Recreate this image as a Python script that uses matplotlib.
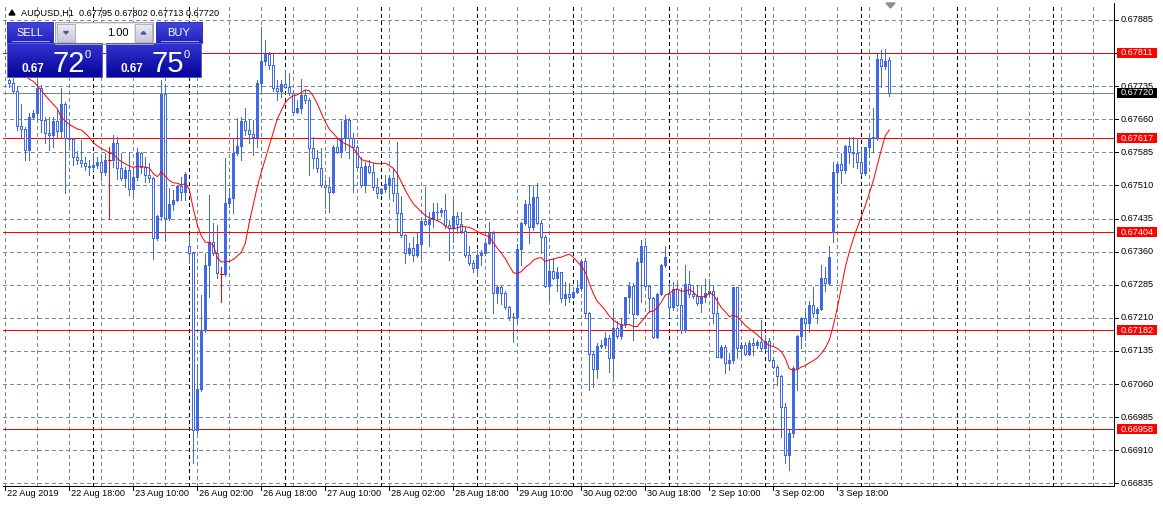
import numpy as np
import pandas as pd
import matplotlib
matplotlib.use("Agg")
import matplotlib.pyplot as plt
import matplotlib.transforms as mtransforms
from matplotlib.patches import Rectangle, Polygon

plt.rcParams['font.family'] = ['Liberation Sans', 'DejaVu Sans']

# AUDUSD H1 candles, 22 Aug 2019 03:00 .. 4 Sep 2019 07:00
opens = [
    0.67749, 0.67742, 0.67724, 0.67645, 0.67639, 0.67591, 0.67665, 0.67674, 0.67732, 0.67658,
    0.67628, 0.67625, 0.67657, 0.67633, 0.67695, 0.67617, 0.67615, 0.67575, 0.67568, 0.67560,
    0.67554, 0.67551, 0.67557, 0.67564, 0.67540, 0.67568, 0.67568, 0.67606, 0.67549, 0.67526,
    0.67544, 0.67501, 0.67530, 0.67583, 0.67553, 0.67534, 0.67527, 0.67390, 0.67441, 0.67717,
    0.67436, 0.67468, 0.67477, 0.67509, 0.67496, 0.67372, 0.67356, 0.66955, 0.67048, 0.67183,
    0.67330, 0.67383, 0.67356, 0.67309, 0.67309, 0.67470, 0.67481, 0.67583, 0.67600, 0.67655,
    0.67636, 0.67626, 0.67619, 0.67743, 0.67792, 0.67807, 0.67783, 0.67730, 0.67723, 0.67740,
    0.67734, 0.67720, 0.67677, 0.67685, 0.67715, 0.67704, 0.67594, 0.67572, 0.67549, 0.67510,
    0.67507, 0.67495, 0.67598, 0.67585, 0.67617, 0.67658, 0.67617, 0.67598, 0.67553, 0.67511,
    0.67554, 0.67541, 0.67507, 0.67492, 0.67502, 0.67514, 0.67528, 0.67492, 0.67447, 0.67398,
    0.67356, 0.67368, 0.67353, 0.67378, 0.67430, 0.67423, 0.67434, 0.67449, 0.67451, 0.67455,
    0.67421, 0.67413, 0.67440, 0.67423, 0.67406, 0.67353, 0.67334, 0.67324, 0.67353, 0.67356,
    0.67379, 0.67402, 0.67267, 0.67281, 0.67266, 0.67234, 0.67213, 0.67211, 0.67366, 0.67424,
    0.67468, 0.67415, 0.67485, 0.67424, 0.67393, 0.67283, 0.67317, 0.67300, 0.67313, 0.67255,
    0.67264, 0.67258, 0.67268, 0.67277, 0.67338, 0.67221, 0.67128, 0.67095, 0.67147, 0.67149,
    0.67164, 0.67119, 0.67187, 0.67168, 0.67196, 0.67257, 0.67283, 0.67218, 0.67336, 0.67373,
    0.67283, 0.67255, 0.67166, 0.67264, 0.67330, 0.67264, 0.67234, 0.67275, 0.67239, 0.67183,
    0.67286, 0.67264, 0.67260, 0.67243, 0.67258, 0.67266, 0.67272, 0.67221, 0.67122, 0.67144,
    0.67107, 0.67115, 0.67279, 0.67141, 0.67149, 0.67128, 0.67154, 0.67149, 0.67156, 0.67141,
    0.67158, 0.67115, 0.67098, 0.67079, 0.67009, 0.66900, 0.66949, 0.67096, 0.67168, 0.67209,
    0.67198, 0.67239, 0.67222, 0.67230, 0.67300, 0.67289, 0.67404, 0.67541, 0.67559, 0.67544,
    0.67600, 0.67587, 0.67583, 0.67564, 0.67539, 0.67598, 0.67617, 0.67619, 0.67796, 0.67781,
    0.67795,
]
highs = [
    0.67752, 0.67753, 0.67734, 0.67695, 0.67643, 0.67675, 0.67680, 0.67747, 0.67738, 0.67666,
    0.67665, 0.67665, 0.67681, 0.67732, 0.67700, 0.67658, 0.67617, 0.67589, 0.67612, 0.67575,
    0.67568, 0.67583, 0.67575, 0.67579, 0.67583, 0.67598, 0.67625, 0.67619, 0.67583, 0.67553,
    0.67585, 0.67553, 0.67594, 0.67585, 0.67575, 0.67560, 0.67530, 0.67443, 0.67749, 0.67738,
    0.67504, 0.67500, 0.67511, 0.67530, 0.67541, 0.67398, 0.67360, 0.67104, 0.67262, 0.67356,
    0.67489, 0.67424, 0.67421, 0.67326, 0.67572, 0.67504, 0.67617, 0.67662, 0.67666, 0.67685,
    0.67658, 0.67658, 0.67749, 0.67868, 0.67840, 0.67813, 0.67809, 0.67749, 0.67749, 0.67772,
    0.67764, 0.67726, 0.67704, 0.67751, 0.67726, 0.67708, 0.67621, 0.67591, 0.67594, 0.67523,
    0.67530, 0.67602, 0.67617, 0.67655, 0.67670, 0.67662, 0.67628, 0.67602, 0.67575, 0.67564,
    0.67568, 0.67560, 0.67526, 0.67504, 0.67534, 0.67534, 0.67549, 0.67609, 0.67486, 0.67400,
    0.67379, 0.67394, 0.67402, 0.67436, 0.67507, 0.67451, 0.67470, 0.67471, 0.67458, 0.67491,
    0.67432, 0.67477, 0.67451, 0.67451, 0.67417, 0.67372, 0.67341, 0.67364, 0.67364, 0.67383,
    0.67428, 0.67406, 0.67285, 0.67283, 0.67270, 0.67236, 0.67221, 0.67377, 0.67428, 0.67477,
    0.67511, 0.67511, 0.67515, 0.67432, 0.67398, 0.67338, 0.67345, 0.67326, 0.67315, 0.67292,
    0.67289, 0.67281, 0.67296, 0.67343, 0.67345, 0.67224, 0.67134, 0.67154, 0.67160, 0.67177,
    0.67172, 0.67230, 0.67202, 0.67209, 0.67258, 0.67292, 0.67289, 0.67345, 0.67387, 0.67381,
    0.67285, 0.67258, 0.67266, 0.67332, 0.67373, 0.67289, 0.67292, 0.67289, 0.67277, 0.67330,
    0.67317, 0.67285, 0.67285, 0.67285, 0.67298, 0.67298, 0.67285, 0.67258, 0.67149, 0.67149,
    0.67130, 0.67281, 0.67281, 0.67156, 0.67156, 0.67160, 0.67164, 0.67160, 0.67205, 0.67172,
    0.67164, 0.67121, 0.67104, 0.67081, 0.67017, 0.66956, 0.67100, 0.67172, 0.67211, 0.67224,
    0.67249, 0.67281, 0.67234, 0.67330, 0.67326, 0.67372, 0.67564, 0.67560, 0.67583, 0.67602,
    0.67621, 0.67621, 0.67617, 0.67594, 0.67598, 0.67625, 0.67685, 0.67809, 0.67817, 0.67819,
    0.67802,
]
lows = [
    0.67734, 0.67720, 0.67636, 0.67617, 0.67568, 0.67568, 0.67660, 0.67658, 0.67632, 0.67607,
    0.67591, 0.67598, 0.67617, 0.67621, 0.67492, 0.67598, 0.67557, 0.67559, 0.67553, 0.67544,
    0.67534, 0.67545, 0.67549, 0.67523, 0.67534, 0.67434, 0.67553, 0.67524, 0.67523, 0.67507,
    0.67489, 0.67485, 0.67523, 0.67538, 0.67517, 0.67519, 0.67343, 0.67387, 0.67432, 0.67387,
    0.67432, 0.67455, 0.67474, 0.67477, 0.67477, 0.67334, 0.66881, 0.66949, 0.67045, 0.67179,
    0.67258, 0.67353, 0.67300, 0.67247, 0.67304, 0.67462, 0.67447, 0.67579, 0.67568, 0.67625,
    0.67606, 0.67579, 0.67598, 0.67726, 0.67783, 0.67775, 0.67723, 0.67704, 0.67711, 0.67730,
    0.67715, 0.67670, 0.67674, 0.67674, 0.67696, 0.67534, 0.67549, 0.67541, 0.67507, 0.67458,
    0.67451, 0.67492, 0.67583, 0.67575, 0.67591, 0.67572, 0.67496, 0.67549, 0.67507, 0.67496,
    0.67538, 0.67500, 0.67481, 0.67491, 0.67496, 0.67485, 0.67474, 0.67406, 0.67394, 0.67335,
    0.67353, 0.67338, 0.67349, 0.67345, 0.67421, 0.67373, 0.67417, 0.67432, 0.67440, 0.67413,
    0.67341, 0.67383, 0.67402, 0.67402, 0.67347, 0.67330, 0.67313, 0.67304, 0.67330, 0.67353,
    0.67378, 0.67222, 0.67243, 0.67242, 0.67230, 0.67205, 0.67156, 0.67198, 0.67330, 0.67421,
    0.67379, 0.67409, 0.67423, 0.67356, 0.67281, 0.67251, 0.67298, 0.67270, 0.67247, 0.67239,
    0.67247, 0.67255, 0.67266, 0.67270, 0.67211, 0.67047, 0.67054, 0.67073, 0.67141, 0.67141,
    0.67088, 0.67073, 0.67164, 0.67162, 0.67190, 0.67221, 0.67160, 0.67217, 0.67247, 0.67281,
    0.67224, 0.67164, 0.67164, 0.67262, 0.67325, 0.67213, 0.67228, 0.67236, 0.67175, 0.67179,
    0.67258, 0.67255, 0.67239, 0.67224, 0.67247, 0.67262, 0.67198, 0.67121, 0.67119, 0.67085,
    0.67092, 0.67107, 0.67119, 0.67122, 0.67126, 0.67126, 0.67126, 0.67141, 0.67138, 0.67138,
    0.67113, 0.67096, 0.67058, 0.66941, 0.66881, 0.66866, 0.66941, 0.67047, 0.67141, 0.67160,
    0.67179, 0.67213, 0.67198, 0.67228, 0.67270, 0.67285, 0.67383, 0.67492, 0.67515, 0.67538,
    0.67560, 0.67553, 0.67549, 0.67534, 0.67534, 0.67575, 0.67587, 0.67613, 0.67734, 0.67775,
    0.67713,
]
closes = [
    0.67742, 0.67724, 0.67645, 0.67639, 0.67591, 0.67665, 0.67674, 0.67732, 0.67658, 0.67628,
    0.67625, 0.67657, 0.67633, 0.67695, 0.67617, 0.67615, 0.67575, 0.67568, 0.67560, 0.67554,
    0.67551, 0.67557, 0.67564, 0.67540, 0.67568, 0.67568, 0.67606, 0.67549, 0.67526, 0.67544,
    0.67501, 0.67530, 0.67583, 0.67553, 0.67534, 0.67527, 0.67390, 0.67441, 0.67717, 0.67436,
    0.67468, 0.67477, 0.67509, 0.67496, 0.67536, 0.67356, 0.66955, 0.67048, 0.67183, 0.67330,
    0.67383, 0.67356, 0.67311, 0.67309, 0.67470, 0.67481, 0.67583, 0.67600, 0.67655, 0.67636,
    0.67626, 0.67619, 0.67743, 0.67792, 0.67807, 0.67783, 0.67730, 0.67723, 0.67740, 0.67734,
    0.67720, 0.67677, 0.67685, 0.67715, 0.67704, 0.67594, 0.67572, 0.67549, 0.67510, 0.67507,
    0.67495, 0.67598, 0.67585, 0.67617, 0.67658, 0.67617, 0.67598, 0.67553, 0.67511, 0.67554,
    0.67541, 0.67507, 0.67492, 0.67502, 0.67514, 0.67528, 0.67492, 0.67447, 0.67398, 0.67356,
    0.67368, 0.67353, 0.67378, 0.67430, 0.67423, 0.67434, 0.67449, 0.67451, 0.67455, 0.67421,
    0.67413, 0.67440, 0.67423, 0.67406, 0.67353, 0.67334, 0.67324, 0.67353, 0.67356, 0.67379,
    0.67402, 0.67267, 0.67281, 0.67266, 0.67234, 0.67213, 0.67211, 0.67366, 0.67424, 0.67468,
    0.67415, 0.67485, 0.67424, 0.67393, 0.67283, 0.67317, 0.67300, 0.67313, 0.67255, 0.67264,
    0.67258, 0.67268, 0.67277, 0.67338, 0.67221, 0.67128, 0.67095, 0.67147, 0.67149, 0.67164,
    0.67119, 0.67187, 0.67168, 0.67196, 0.67257, 0.67283, 0.67218, 0.67336, 0.67373, 0.67283,
    0.67255, 0.67166, 0.67264, 0.67330, 0.67349, 0.67234, 0.67275, 0.67239, 0.67183, 0.67286,
    0.67264, 0.67260, 0.67243, 0.67258, 0.67266, 0.67272, 0.67221, 0.67122, 0.67144, 0.67107,
    0.67115, 0.67279, 0.67141, 0.67149, 0.67128, 0.67154, 0.67149, 0.67156, 0.67141, 0.67158,
    0.67115, 0.67098, 0.67079, 0.67009, 0.66900, 0.66949, 0.67096, 0.67168, 0.67209, 0.67198,
    0.67239, 0.67222, 0.67230, 0.67300, 0.67289, 0.67349, 0.67541, 0.67559, 0.67544, 0.67600,
    0.67587, 0.67583, 0.67564, 0.67539, 0.67598, 0.67617, 0.67619, 0.67796, 0.67781, 0.67792,
    0.67720,
]
# MA(14) values for the first bars (its history lies left of the window)
ma_start = [0.67794, 0.67787, 0.67779, 0.67768, 0.67760, 0.67751, 0.67746,
            0.67736, 0.67725, 0.67714, 0.67704, 0.67694, 0.67684]
ma_period = 14

levels = [0.67811, 0.67617, 0.67404, 0.67182, 0.66958]
bid_price = 0.67720
price_ticks = [0.66835, 0.66910, 0.66985, 0.67060, 0.67135, 0.67210, 0.67285, 0.67360,
               0.67435, 0.67510, 0.67585, 0.67660, 0.67735, 0.67810, 0.67885]

trading_days = ["2019-08-22", "2019-08-23", "2019-08-26", "2019-08-27", "2019-08-28",
                "2019-08-29", "2019-08-30", "2019-09-02", "2019-09-03", "2019-09-04",
                "2019-09-05", "2019-09-06"]
first_bar = "2019-08-22 03:00"
time_labels = ["22 Aug 2019", "22 Aug 18:00", "23 Aug 10:00", "26 Aug 02:00", "26 Aug 18:00",
               "27 Aug 10:00", "28 Aug 02:00", "28 Aug 18:00", "29 Aug 10:00", "30 Aug 02:00",
               "30 Aug 18:00", "2 Sep 10:00", "3 Sep 02:00", "3 Sep 18:00"]
label_times = ["2019-08-22 02:00", "2019-08-22 18:00", "2019-08-23 10:00", "2019-08-26 02:00",
               "2019-08-26 18:00", "2019-08-27 10:00", "2019-08-28 02:00", "2019-08-28 18:00",
               "2019-08-29 10:00", "2019-08-30 02:00", "2019-08-30 18:00", "2019-09-02 10:00",
               "2019-09-03 02:00", "2019-09-03 18:00"]
header = "AUDUSD,H1  0.67795 0.67802 0.67713 0.67720"
lot = "1.00"
sell_quote = ["0.67", "72", "0"]
buy_quote = ["0.67", "75", "0"]

W, H = 1163, 509
PX = 0.72  # one pixel in points
blue = '#4169E1'
slate = '#778899'
fs = 6.6

fig = plt.figure(figsize=(W / 100, H / 100), dpi=100)
fig.patch.set_facecolor('white')
ax = fig.add_axes([3 / W, 1 - 486 / H, 1111 / W, 483 / H])

grid_times = [pd.Timestamp(d) + pd.Timedelta(hours=h) for d in trading_days for h in range(24)]
k0 = grid_times.index(pd.Timestamp(first_bar))
n = len(closes)
xs = np.arange(n) + k0

ymin, ymax = 0.668291, 0.679235
ax.set_ylim(ymin, ymax)
ax.set_xlim(k0 - 1.575, k0 + 276.175)
ppu = 483 / (ymax - ymin)

for s in ['left', 'top']:
    ax.spines[s].set_visible(False)
for s in ['right', 'bottom']:
    ax.spines[s].set_linewidth(PX)
    ax.spines[s].set_color('black')
ax.set_xticks([])
ax.set_yticks([])

# grid and period separators
dash = (0, (3, 3))
for p in price_ticks:
    ax.axhline(p, color=slate, lw=PX, ls=dash, antialiased=False, zorder=1)
for k in range(2, k0 + 280, 8):
    ax.axvline(k, color=slate, lw=PX, ls=dash, antialiased=False, zorder=1)
for k, t in enumerate(grid_times):
    if t.hour == 0 and k > 0:
        ax.axvline(k, color='black', lw=PX, ls=dash, antialiased=False, zorder=1.5)

for lv in levels:
    ax.axhline(lv, color='red', lw=PX, antialiased=False, zorder=2)
ax.axhline(bid_price, color=slate, lw=PX, antialiased=False, zorder=2)

# candles: filled = up, hollow = down, red cross = unchanged
for x, o, h, l, c in zip(xs, opens, highs, lows, closes):
    if o == c:
        ax.vlines(x, l, h, color='red', lw=PX, antialiased=False, zorder=3)
        ax.hlines(o, x - 0.4, x + 0.4, color='red', lw=PX, antialiased=False, zorder=3)
        continue
    ax.vlines(x, l, h, color=blue, lw=PX, antialiased=False, zorder=3)
    ax.add_patch(Rectangle((x - 0.25, min(o, c)), 0.5, abs(c - o),
                           facecolor=blue if c > o else 'white', edgecolor=blue,
                           lw=PX, antialiased=False, zorder=4))

ma = pd.Series(closes).rolling(ma_period).mean().to_numpy()
ma[:len(ma_start)] = ma_start
ax.plot(xs, ma, color='red', lw=PX, zorder=5)

# price scale
ytr = ax.get_yaxis_transform()
lab_tr = mtransforms.offset_copy(ytr, fig=fig, x=6.7, y=0, units='dots')
for p in price_ticks:
    ax.plot([1, 1 + 4 / 1111], [p, p], color='black', lw=PX, transform=ytr, clip_on=False)
    ax.text(1, p, f"{p:.5f}", transform=lab_tr, fontsize=fs, va='center', ha='left', zorder=6)


def tag(p, fc):
    ax.add_patch(Rectangle((1 + 2.7 / 1111, p - 5 / ppu), 40.6 / 1111, 10 / ppu,
                           transform=ytr, facecolor=fc, edgecolor='none',
                           clip_on=False, zorder=7))
    ax.text(1, p, f"{p:.5f}", transform=lab_tr, fontsize=fs, va='center', ha='left',
            color='white', zorder=8)


for lv in levels:
    tag(lv, 'red')
tag(bid_price, 'black')

# time scale
xtr = ax.get_xaxis_transform()
tlab_tr = mtransforms.offset_copy(xtr, fig=fig, x=2, y=-3, units='dots')
for lab, t in zip(time_labels, label_times):
    k = grid_times.index(pd.Timestamp(t))
    ax.plot([k, k], [0, -4 / 483], color='black', lw=PX, transform=xtr, clip_on=False)
    ax.text(k, 0, lab, transform=tlab_tr, fontsize=fs, va='top', ha='left')

# overlay: one-click panel, header
ov = fig.add_axes([0, 0, 1, 1], zorder=10)
ov.patch.set_alpha(0)
ov.axis('off')


def gbox(x0, y0, x1, y1, top, bot, edge=None):
    t = np.linspace(0, 1, 64)[:, None, None]
    img = (1 - t) * np.array(top)[None, None, :] + t * np.array(bot)[None, None, :]
    ov.imshow(img, extent=(x0, x1, y1, y0), aspect='auto', interpolation='bilinear', zorder=11)
    if edge is not None:
        ov.add_patch(Rectangle((x0, y0), x1 - x0, y1 - y0, fill=False, ec=edge, lw=PX, zorder=12))


ov.add_patch(Polygon([(9, 15), (15, 15), (12, 10)], closed=True, color='black', zorder=11))
ov.text(21, 13, header, fontsize=fs, va='center', ha='left', zorder=12)

for x0, label, quote in [(7, "SELL", sell_quote), (156, "BUY", buy_quote)]:
    bx0, bx1 = (7, 102) if label == "SELL" else (106, 201)
    gbox(x0, 22, x0 + 46, 43, (0.27, 0.27, 0.87), (0.13, 0.13, 0.74), edge=(0.2, 0.2, 0.7))
    ov.plot([x0 + 5, x0 + 42], [41, 41], color=(0.65, 0.65, 0.95), lw=PX, zorder=13)
    ov.text(x0 + 23, 32.5, label, color='white', fontsize=8, ha='center', va='center', zorder=13)
    gbox(bx0, 43, bx1, 77, (0.2, 0.2, 0.82), (0.02, 0.02, 0.6), edge=(0.35, 0.35, 0.85))
    ov.text(bx0 + 14.5, 71.5, quote[0], color='white', fontsize=8.5, fontweight='bold',
            ha='left', va='baseline', zorder=13)
    ov.text(bx0 + 45.5, 71.5, quote[1], color='white', fontsize=21, ha='left',
            va='baseline', zorder=13)
    ov.text(bx0 + 78, 57.5, quote[2], color='white', fontsize=8, ha='left',
            va='baseline', zorder=13)

ov.add_patch(Rectangle((55, 22), 98, 22, facecolor='#E4E4E4', edgecolor='#A8A8A8', lw=PX, zorder=11))
ov.add_patch(Rectangle((76, 23.5), 58, 19, facecolor='white', edgecolor='none', zorder=12))
gbox(57, 24, 75, 42, (0.93, 0.93, 0.96), (0.78, 0.78, 0.84), edge=(0.7, 0.7, 0.75))
gbox(135, 24, 152, 42, (0.93, 0.93, 0.96), (0.78, 0.78, 0.84), edge=(0.7, 0.7, 0.75))
ov.add_patch(Polygon([(63.5, 31.5), (68.5, 31.5), (66, 34)], closed=True, color='#4A5A9A', zorder=13))
ov.add_patch(Polygon([(141, 34), (146, 34), (143.5, 31.5)], closed=True, color='#4A5A9A', zorder=13))
ov.text(129, 32.5, lot, fontsize=8, ha='right', va='center', zorder=13)

# chart shift marker
ov.add_patch(Polygon([(886, 3), (895, 3), (890.5, 8)], closed=True, color='#8C8C8C', zorder=11))

ov.set_xlim(0, W)
ov.set_ylim(H, 0)

fig.savefig('out.png', dpi=100)
